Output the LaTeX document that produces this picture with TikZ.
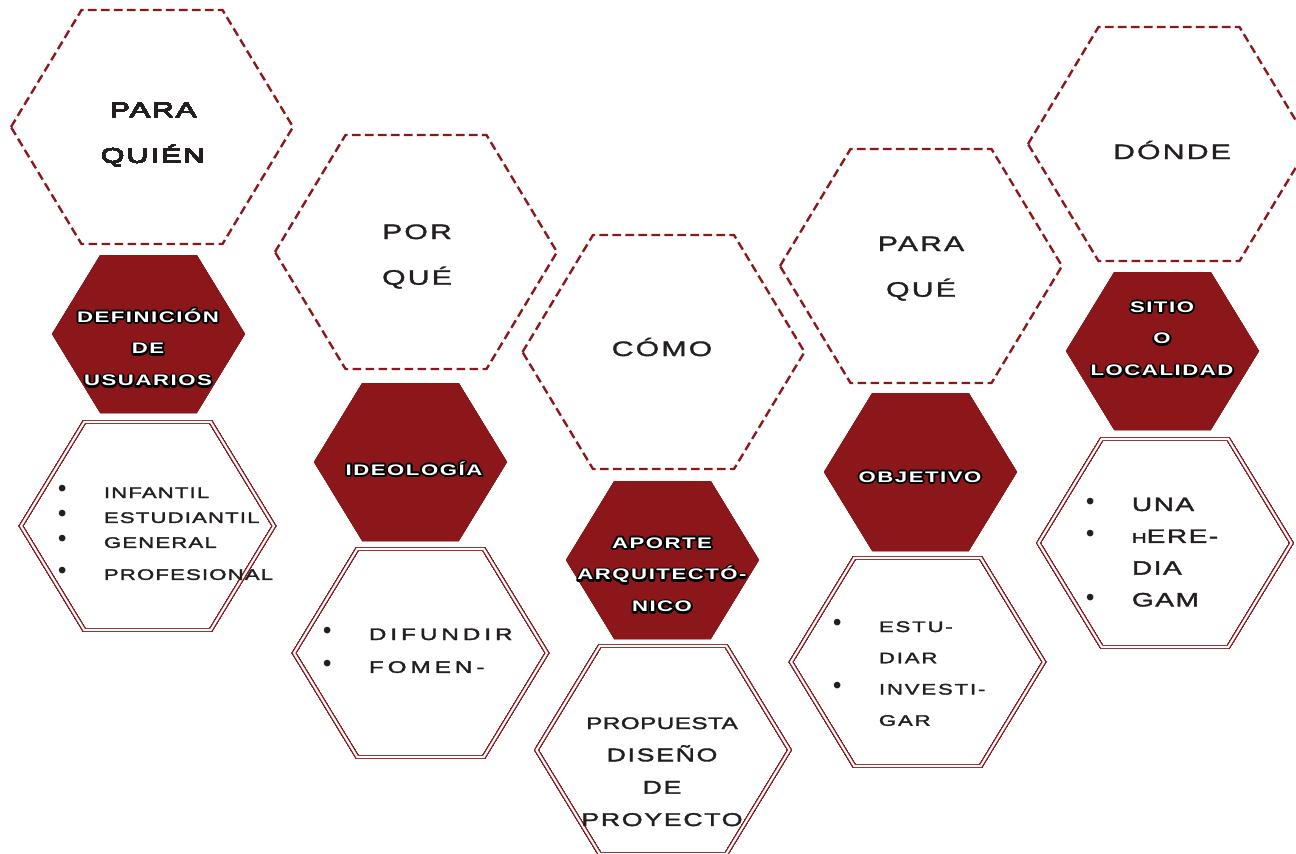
\documentclass[tikz,border=0pt]{standalone}
\usepackage{fontspec}
\newfontfamily\widesans[FakeStretch=1.45]{Liberation Sans}
\definecolor{hexred}{HTML}{8B171B}
\definecolor{inkgray}{HTML}{231F20}
% outlined white text, bullets, stacked lines
\newcommand\outl[1]{\rlap{\textcolor{black}{\special{pdf:literal direct 2.2 w 1 j 1 Tr}#1\special{pdf:literal direct 0 Tr}}}#1}
\newcommand\bul{\makebox[10pt]{\raisebox{1.9pt}{\rmfamily\fontsize{14}{14}\selectfont\textbullet}}}
\newcommand\stack[1]{\begin{tabular}[t]{@{}c@{}}#1\end{tabular}}
\newcommand\blist[1]{\begin{tabular}[t]{@{}l@{\hspace{18.8pt}}l@{}}#1\end{tabular}}
% hexagon with vertices left/right: center, half width, half height
\newcommand\hexa[4][]{\draw[#1] (#2) ++(-#3,0) -- ++(#3/2,-#4) -- ++(#3,0)
  -- ++(#3/2,#4) -- ++(-#3/2,#4) -- ++(-#3,0) -- cycle;}
\begin{document}
\begin{tikzpicture}[x=0.02cm,y=-0.02cm,
dashhex/.style={
% question frame
draw=hexred,line width=1.35pt,dash pattern=on 4.9pt off 2.5pt,line join=round
},
fillhex/.style={draw=none,fill=hexred},
dblhex/.style={
draw=hexred,double=white,line width=0.5pt,double distance=1.2pt
},
ask/.style={anchor=base,inner sep=0pt,text=inkgray,
  font=\widesans\addfontfeature{LetterSpace=10,FakeBold=1.5}\fontsize{11.9}{26}\selectfont},
tag/.style={anchor=base,inner sep=0pt,text=white,
  font=\widesans\bfseries\addfontfeature{LetterSpace=10}\fontsize{8.7}{18.2}\selectfont},
items/.style n args={3}{anchor=base west,inner sep=0pt,text=inkgray,
  font=\widesans\addfontfeature{LetterSpace=#1,FakeBold=2}\fontsize{#2}{#3}\selectfont}
]
\useasboundingbox (0,0) rectangle (1296,853);
\clip (0,0) rectangle (1296,853);
% frames
\foreach \cx/\cy in {152/127,416/252,663.5/352,921/266,1169/144}
  \hexa[dashhex]{\cx,\cy}{141}{117}
\foreach \cx/\cy in {148.5/334,410.5/462,662.5/560,920.5/472,1162.5/351}
  \hexa[fillhex]{\cx,\cy}{96.5}{79}
\foreach \cx/\cy in {147.5/526,420.5/653,663/750,917.5/662,1165/543}
  \hexa[dblhex]{\cx,\cy}{126.5}{104}
% questions
\node (quien) [ask] at (153,117) {\stack{PARA\\QUIÉN}};
\node (porque) [ask] at (417,239) {\stack{POR\\QUÉ}};
\node (como) [ask] at (662,356) {CÓMO};
\node (paraque) [ask] at (921,251) {\stack{PARA\\QUÉ}};
\node (donde) [ask] at (1172,159) {DÓNDE};
% topics
\node (usuarios) [tag] at (148,322) {\stack{\outl{DEFINICIÓN}\\\outl{DE}\\\outl{USUARIOS}}};
\node (ideologia) [tag] at (414,475) {\outl{IDEOLOGÍA}};
\node (aporte) [tag] at (662,548) {\stack{\outl{APORTE}\\\outl{ARQUITECTÓ-}\\\outl{NICO}}};
\node (objetivo) [tag] at (920,482) {\outl{OBJETIVO}};
\node (sitio) [tag] at (1162,312) {\stack{\outl{SITIO}\\\outl{O}\\\outl{LOCALIDAD}}};
% answers
\node (perfiles) [items={7.5}{8.7}{14.2}] at (53,498)
  {\blist{\bul & INFANTIL\\ \bul & ESTUDIANTIL\\ \bul & GENERAL\\[4pt] \bul & PROFESIONAL}};
\node (fines) [items={24}{9.5}{18.7}] at (318,640)
  {\blist{\bul & DIFUNDIR\\ \bul & FOMEN-}};
\node (propuesta) [items={9}{10.5}{18.4},anchor=base] at (662,729)
  {\stack{{\addfontfeature{LetterSpace=3}\fontsize{9.5}{18}\selectfont PROPUESTA}\\DISEÑO\\DE\\PROYECTO}};
\node (metas) [items={12}{8.7}{17.8}] at (828,632)
  {\blist{\bul & ESTU-\\ & DIAR\\ \bul & INVESTI-\\ & GAR}};
\node (lugares) [items={8}{11}{18.1}] at (1081,511)
  {\blist{\bul & UNA\\ \bul & {\fontsize{8}{8}\selectfont H}ERE-\\ & DIA\\ \bul & GAM}};
\end{tikzpicture}
\end{document}
